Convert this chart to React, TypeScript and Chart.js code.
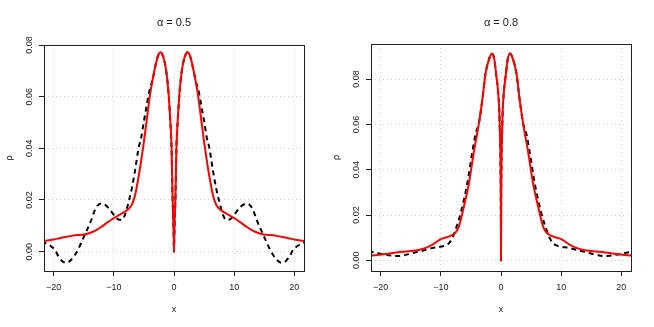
import React, { useEffect, useRef } from "react";
import { Chart, registerables } from "chart.js";

Chart.register(...registerables);

// ---- data (x >= 0 half, curves are symmetric about x = 0) ----
const xTickValues = [-20, -10, 0, 10, 20];
const yTickValues = [0, 0.02, 0.04, 0.06, 0.08];
const panelTitles = ["α = 0.5", "α = 0.8"];

// alpha = 0.5, red solid
const redXA = [0, 0.05, 0.12, 0.25, 0.4, 0.6, 0.95, 1.3, 1.7, 2.0, 2.25, 2.6, 3.0, 3.5, 4.0, 4.5, 5.0, 5.5, 6.0, 6.5, 7.0, 7.5, 8.0, 8.5, 9.0, 10.0, 11.0, 12.0, 13.0, 14.0, 15.0, 16.0, 17.0, 18.0, 19.0, 20.0, 21.0, 22.0];
const redYA = [0, 0.006, 0.012, 0.022, 0.04, 0.05, 0.0625, 0.07, 0.0748, 0.0766, 0.0772, 0.0762, 0.0728, 0.0672, 0.0605, 0.0515, 0.0425, 0.0345, 0.0275, 0.0215, 0.0182, 0.0166, 0.0157, 0.015, 0.0143, 0.013, 0.0114, 0.0097, 0.0082, 0.0072, 0.0066, 0.0064, 0.0061, 0.0057, 0.0052, 0.0047, 0.0043, 0.004];
// alpha = 0.5, black dashed
const blackXA = [0, 0.05, 0.12, 0.25, 0.4, 0.6, 0.95, 1.3, 1.7, 2.0, 2.25, 2.6, 3.0, 3.5, 3.8, 4.17, 4.5, 5.0, 5.5, 5.85, 6.5, 7.05, 7.6, 8.1, 8.7, 9.2, 9.7, 10.4, 11.0, 11.6, 12.1, 12.7, 13.2, 13.7, 14.2, 14.8, 15.4, 15.95, 16.5, 17.2, 17.9, 18.5, 19.2, 19.8, 20.5, 21.2, 22.0];
const blackYA = [0, 0.006, 0.012, 0.022, 0.04, 0.05, 0.0625, 0.07, 0.0748, 0.0766, 0.0772, 0.0762, 0.0728, 0.0672, 0.0645, 0.0613, 0.057, 0.0505, 0.0435, 0.0405, 0.031, 0.024, 0.0187, 0.0145, 0.0123, 0.0124, 0.0133, 0.0155, 0.0172, 0.0183, 0.0186, 0.0178, 0.0158, 0.0125, 0.0097, 0.0067, 0.0035, 0.0008, -0.0014, -0.0034, -0.0043, -0.0038, -0.0018, 0.0007, 0.0022, 0.0031, 0.0037];

// alpha = 0.8, red solid
const redXB = [0, 0.02, 0.05, 0.1, 0.15, 0.28, 0.5, 0.8, 1.1, 1.5, 1.9, 2.56, 3.1, 3.67, 4.5, 5.33, 6.17, 7.0, 7.5, 8.1, 9.0, 10.07, 10.8, 11.45, 12.5, 13.7, 15.0, 16.45, 18.0, 19.2, 20.5, 22.0];
const redYB = [0, 0.02, 0.035, 0.048, 0.053, 0.0657, 0.075, 0.082, 0.0885, 0.0913, 0.0895, 0.0826, 0.0709, 0.0605, 0.048, 0.034, 0.0237, 0.0149, 0.0125, 0.0112, 0.0102, 0.0093, 0.008, 0.0068, 0.0055, 0.0046, 0.0041, 0.0038, 0.0032, 0.0028, 0.0024, 0.002];
// alpha = 0.8, black dashed
const blackXB = [0, 0.02, 0.05, 0.1, 0.15, 0.28, 0.5, 0.8, 1.1, 1.5, 1.9, 2.56, 3.1, 3.67, 4.2, 4.7, 5.6, 6.7, 7.57, 8.1, 8.67, 9.3, 10.07, 11.3, 12.57, 13.7, 14.8, 16.0, 17.0, 18.0, 18.7, 19.8, 20.8, 22.0];
const blackYB = [0, 0.02, 0.035, 0.048, 0.053, 0.0657, 0.075, 0.082, 0.0885, 0.0913, 0.0895, 0.0826, 0.0709, 0.0605, 0.056, 0.0488, 0.034, 0.0208, 0.0134, 0.0098, 0.0075, 0.0065, 0.006, 0.0055, 0.0046, 0.0039, 0.0031, 0.0023, 0.0019, 0.002, 0.0023, 0.0028, 0.0034, 0.0039];

const xRange = [-21.6, 21.6];
const yRangeA = [-0.0075, 0.08];
const yRangeB = [-0.0047, 0.0955];

function mirrored(xs: number[], ys: number[]) {
  const pts: { x: number; y: number }[] = [];
  for (let i = xs.length - 1; i > 0; i--) pts.push({ x: -xs[i], y: ys[i] });
  for (let i = 0; i < xs.length; i++) pts.push({ x: xs[i], y: ys[i] });
  return pts;
}

const FONT = "'Liberation Sans', Arial, Helvetica, sans-serif";
const TEXT = "#1a1a1a";

const rDecor = {
  id: "rDecor",
  afterDraw(chart: any, _args: any, opts: any) {
    const { ctx, chartArea } = chart;
    const { left, right, top, bottom } = chartArea;
    ctx.save();
    // box
    ctx.strokeStyle = "#222";
    ctx.lineWidth = 1;
    ctx.setLineDash([]);
    ctx.strokeRect(Math.round(left) + 0.5, Math.round(top) + 0.5, Math.round(right - left), Math.round(bottom - top));
    // y tick labels, rotated
    const ys = chart.scales.y;
    ctx.fillStyle = TEXT;
    ctx.font = `9px ${FONT}`;
    ctx.textAlign = "center";
    ctx.textBaseline = "middle";
    for (const t of ys.ticks) {
      const py = ys.getPixelForValue(t.value);
      ctx.save();
      ctx.translate(29.5, py);
      ctx.rotate(-Math.PI / 2);
      ctx.fillText(Number(t.value).toFixed(2), 0, 0);
      ctx.restore();
    }
    const cx = (left + right) / 2;
    // title
    ctx.font = `11px ${FONT}`;
    ctx.fillText(opts.title, cx, 23);
    // axis titles
    ctx.font = `9px ${FONT}`;
    ctx.fillText("x", cx, 310);
    ctx.save();
    ctx.translate(10, (top + bottom) / 2);
    ctx.rotate(-Math.PI / 2);
    ctx.fillText("ρ", 0, 0);
    ctx.restore();
    ctx.restore();
  },
};

type PanelProps = {
  title: string;
  red: { x: number; y: number }[];
  black: { x: number; y: number }[];
  yRange: number[];
  topPad: number;
};

function Panel({ title, red, black, yRange, topPad }: PanelProps) {
  const ref = useRef<HTMLCanvasElement | null>(null);
  useEffect(() => {
    if (!ref.current) return;
    const chart = new Chart(ref.current, {
      type: "line",
      data: {
        datasets: [
          {
            data: red,
            borderColor: "#ff0000",
            borderWidth: 2,
            pointRadius: 0,
            fill: false,
            cubicInterpolationMode: "monotone",
            order: 0,
          },
          {
            data: black,
            borderColor: "#000",
            borderWidth: 2,
            borderDash: [5, 4],
            pointRadius: 0,
            fill: false,
            cubicInterpolationMode: "monotone",
            order: 1,
          },
        ],
      },
      options: {
        responsive: false,
        animation: false,
        events: [],
        parsing: false as any,
        layout: { padding: { left: 0, right: 23, top: topPad, bottom: 0 } },
        plugins: {
          legend: { display: false },
          tooltip: { enabled: false },
          title: { display: false },
          rDecor: { title },
        } as any,
        scales: {
          x: {
            type: "linear",
            min: xRange[0],
            max: xRange[1],
            afterBuildTicks: (s: any) => {
              s.ticks = xTickValues.map((v) => ({ value: v }));
            },
            afterFit: (s: any) => {
              s.height = 56;
            },
            ticks: {
              color: TEXT,
              font: { size: 9, family: FONT },
              padding: 6,
              maxRotation: 0,
              callback: (v: any) => String(v).replace("-", "\u2212"),
            },
            grid: {
              color: "#d3d3d3",
              lineWidth: 1,
              drawTicks: true,
              tickLength: 5,
              tickColor: "#222",
              tickBorderDash: [],
            },
            border: { display: false, dash: [1, 3] },
          },
          y: {
            type: "linear",
            min: yRange[0],
            max: yRange[1],
            afterBuildTicks: (s: any) => {
              s.ticks = yTickValues.map((v) => ({ value: v }));
            },
            afterFit: (s: any) => {
              s.width = 44;
            },
            ticks: { display: false },
            grid: {
              color: "#d3d3d3",
              lineWidth: 1,
              drawTicks: true,
              tickLength: 5,
              tickColor: "#222",
              tickBorderDash: [],
            },
            border: { display: false, dash: [1, 3] },
          },
        },
      } as any,
      plugins: [rDecor],
    });
    return () => chart.destroy();
  }, []);
  return <canvas ref={ref} width={327} height={327} style={{ display: "block", width: 327, height: 327 }} />;
}

export default function App() {
  return (
    <div style={{ position: "fixed", left: 0, top: 0, width: 654, height: 327, background: "#fff", display: "flex" }}>
      <Panel title={panelTitles[0]} red={mirrored(redXA, redYA)} black={mirrored(blackXA, blackYA)} yRange={yRangeA} topPad={45} />
      <Panel title={panelTitles[1]} red={mirrored(redXB, redYB)} black={mirrored(blackXB, blackYB)} yRange={yRangeB} topPad={44} />
    </div>
  );
}
